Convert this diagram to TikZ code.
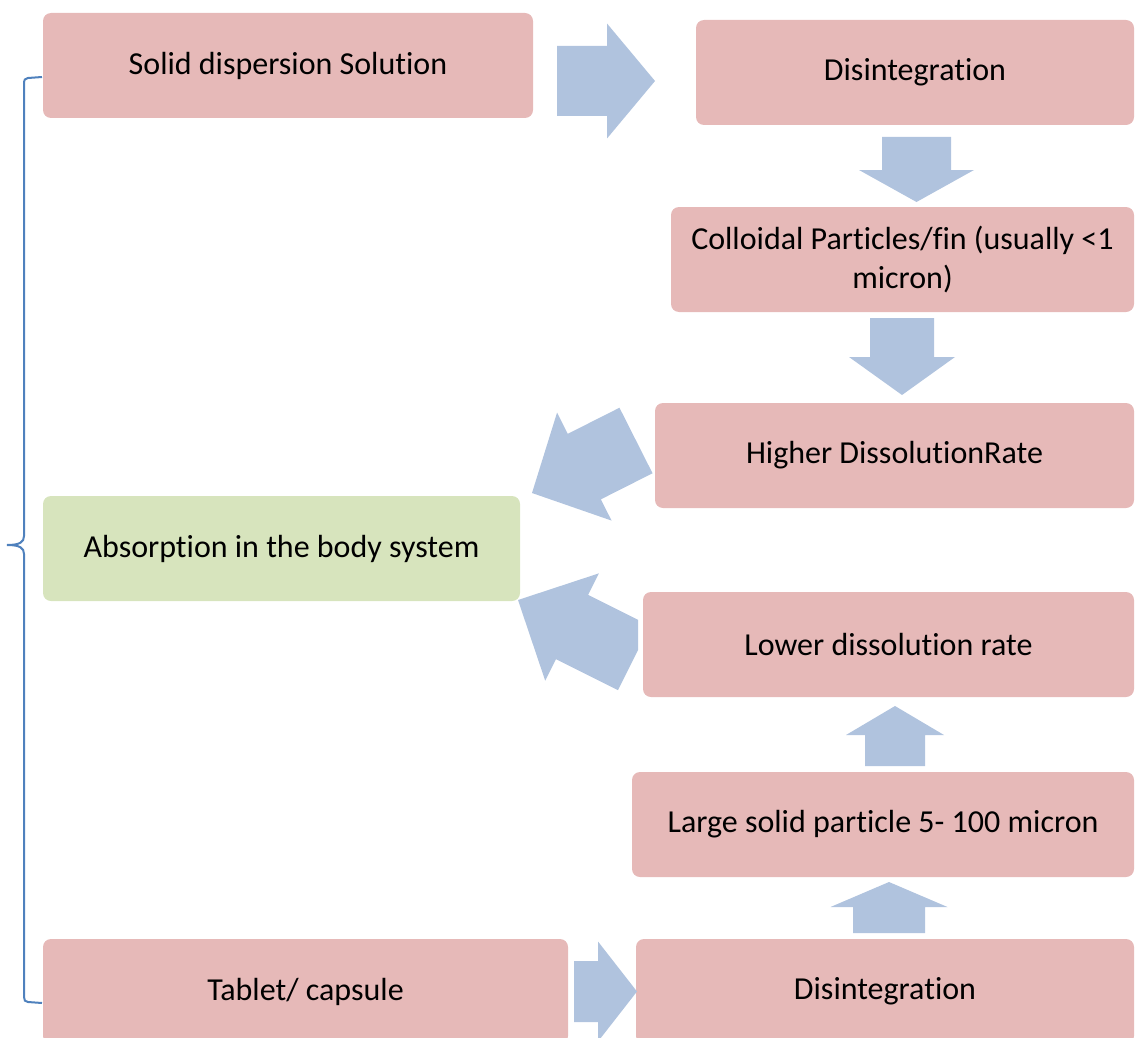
\documentclass[tikz,border=0pt]{standalone}
\usepackage{fontspec}
\setmainfont{Carlito}[Ligatures=NoCommon]
\usepackage{xcolor}
\usetikzlibrary{calc}

\definecolor{boxpink}{HTML}{E6B9B8}
\definecolor{boxgreen}{HTML}{D7E4BD}
\definecolor{arrowblue}{HTML}{B0C3DE}
\definecolor{bracecol}{HTML}{4F81BD}

% block arrow: tail, tip, half body width, half head width, head length
\newcommand{\fatarrow}[5]{%
  \coordinate (fah) at ($(#2)!#5!(#1)$);
  \fill[barrow] ($(#1)!#3!90:(#2)$) -- ($(fah)!#3!90:(#2)$) -- ($(fah)!#4!90:(#2)$)
    -- (#2) -- ($(fah)!#4!-90:(#2)$) -- ($(fah)!#3!-90:(#2)$) -- ($(#1)!#3!-90:(#2)$) -- cycle;}

\begin{document}
\begin{tikzpicture}[
  x=1pt, y=-1pt,
  font=\fontsize{32}{39}\selectfont,
  block/.style={
    fill=boxpink, rounded corners=8pt,
    align=center, minimum height=105pt, inner sep=0pt
  },
  goal/.style={block, fill=boxgreen},
  barrow/.style={fill=arrowblue},
  brace/.style={draw=bracecol, line width=2pt},
]
\useasboundingbox (0,0) rectangle (1135,1038);
\clip (0,0) rectangle (1135,1038);

\node[block, minimum width=490pt] (solid) at (288,65.5) {Solid dispersion Solution};
\node[block, minimum width=438pt] (dis1) at (915,72.5) {Disintegration};
\node[block, minimum width=463pt] (coll) at (902.5,259.5)
  {Colloidal Particles/fin (usually <1\\micron)};
\node[block, minimum width=479pt] (high) at (894.5,455.5) {Higher DissolutionRate};
\node[goal, minimum width=477pt] (absorb) at (281.5,548.5) {Absorption in the body system};
\node[block, minimum width=491pt] (low) at (888.5,644.5) {Lower dissolution rate};
\node[block, minimum width=502pt] (large) at (883,824.5) {Large solid particle 5- 100 micron};
\node[block, minimum width=525pt] (tablet) at (305.5,991.5) {Tablet/ capsule};
\node[block, minimum width=498pt] (dis2) at (885,991.5) {Disintegration};

% arrow ends
\coordinate (a1t) at (557,81);   \coordinate (a1h) at (655,81);
\coordinate (a2t) at (916.5,137); \coordinate (a2h) at (916.5,202);
\coordinate (a3t) at (902,318);  \coordinate (a3h) at (902,395);
\coordinate (a4t) at (636,440.5); \coordinate (a4h) at (532,493);
\coordinate (a5t) at (634,658);  \coordinate (a5h) at (518,600);
\coordinate (a6t) at (895,766);  \coordinate (a6h) at (895,706);
\coordinate (a7t) at (889,933);  \coordinate (a7h) at (889,882);
\coordinate (a8t) at (574,991.5); \coordinate (a8h) at (637,991.5);

\fatarrow{a1t}{a1h}{35pt}{57.5pt}{48pt}
\fatarrow{a2t}{a2h}{34.5pt}{57.5pt}{32pt}
\fatarrow{a3t}{a3h}{32pt}{53pt}{38pt}
\fatarrow{a4t}{a4h}{36.7pt}{60.5pt}{58.6pt}
\begin{scope}
\clip (0,0) rectangle (638,1038);
\fatarrow{a5t}{a5h}{36pt}{60pt}{60.4pt}
\end{scope}
\fatarrow{a6t}{a6h}{30pt}{49pt}{29pt}
\fatarrow{a7t}{a7h}{36pt}{58.5pt}{25pt}
\fatarrow{a8t}{a8h}{30.5pt}{50pt}{39pt}

% bracket on the left
\coordinate (brtop) at (42,77);
\coordinate (brtip) at (7,545);
\coordinate (brbot) at (42,1003);
\draw[brace] (brtop) -- (28,78) .. controls (25,78) and (24,80) .. (24,84) -- (24,536)
  .. controls (24,542) and (20,545) .. (brtip)
  .. controls (20,545) and (24,548) .. (24,554) -- (24,997)
  .. controls (24,1000) and (25,1002) .. (28,1002) -- (brbot);

\end{tikzpicture}
\end{document}
